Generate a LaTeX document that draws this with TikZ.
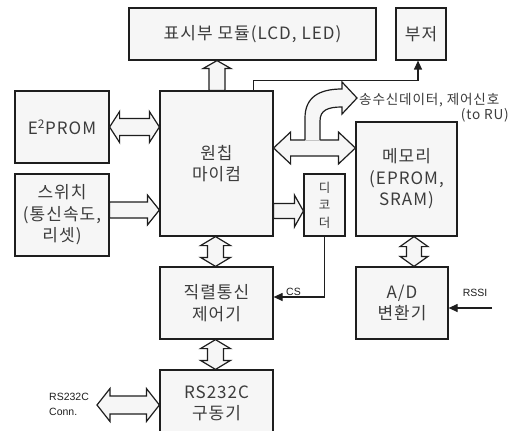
\documentclass[tikz,border=0pt]{standalone}
\usepackage{fontspec}
\setmainfont{Noto Sans CJK KR}
\newfontfamily\kr[LetterSpace=6]{Noto Sans CJK KR}
\newfontfamily\lat{Liberation Sans}
\usetikzlibrary{calc,arrows.meta}
\definecolor{boxfill}{RGB}{246,246,246}
\definecolor{txt}{RGB}{60,60,60}
\definecolor{edge}{RGB}{30,30,30}
\tikzset{
  box/.style={draw=edge, line width=1.2pt, fill=boxfill, inner sep=0pt, align=center,
    font=\kr\fontsize{17}{21.5}\selectfont, text=txt},
  blk/.style={draw=edge, line width=1.2pt, fill=boxfill, line join=miter},
  wire/.style={draw=edge, line width=1.2pt},
  tip/.style={-{Triangle[length=9pt,width=8pt]}},
  small/.style={font=\lat\fontsize{10.5}{14.5}\selectfont, text=edge, inner sep=0pt},
  ann/.style={font=\kr\fontsize{13.6}{16}\selectfont, text=txt, inner sep=0pt},
}
% vertical double block arrow: #1 top tip, #2 bottom tip, #3 half shaft, #4 half head, #5 head length
\newcommand\mkvd[5]{\path[blk] let \p1=(#1), \p2=(#2) in
  (\x1,\y1) -- (\x1+#4,\y1-#5) -- (\x1+#3,\y1-#5) -- (\x1+#3,\y2+#5) -- (\x1+#4,\y2+#5)
  -- (\x1,\y2) -- (\x1-#4,\y2+#5) -- (\x1-#3,\y2+#5) -- (\x1-#3,\y1-#5) -- (\x1-#4,\y1-#5) -- cycle;}
% horizontal double block arrow: #1 left tip, #2 right tip
\newcommand\mkhd[5]{\path[blk] let \p1=(#1), \p2=(#2) in
  (\x1,\y1) -- (\x1+#5,\y1+#4) -- (\x1+#5,\y1+#3) -- (\x2-#5,\y1+#3) -- (\x2-#5,\y1+#4)
  -- (\x2,\y1) -- (\x2-#5,\y1-#4) -- (\x2-#5,\y1-#3) -- (\x1+#5,\y1-#3) -- (\x1+#5,\y1-#4) -- cycle;}
% horizontal single block arrow: #1 tail, #2 tip (to the right)
\newcommand\mkhs[5]{\path[blk] let \p1=(#1), \p2=(#2) in
  (\x1,\y1+#3) -- (\x2-#5,\y1+#3) -- (\x2-#5,\y1+#4) -- (\x2,\y1) -- (\x2-#5,\y1-#4)
  -- (\x2-#5,\y1-#3) -- (\x1,\y1-#3) -- cycle;}
% vertical single block arrow: #1 tail (bottom), #2 tip (top)
\newcommand\mkvs[5]{\path[blk] let \p1=(#1), \p2=(#2) in
  (\x1+#3,\y1) -- (\x1+#3,\y2-#5) -- (\x1+#4,\y2-#5) -- (\x1,\y2) -- (\x1-#4,\y2-#5)
  -- (\x1-#3,\y2-#5) -- (\x1-#3,\y1) -- cycle;}
\begin{document}
\begin{tikzpicture}[x=1pt,y=-1pt]
\useasboundingbox (0,0) rectangle (526,430);
\clip (0,0) rectangle (526,430);
\fill[white] (0,0) rectangle (526,430);

% boxes
\node[box, minimum width=247pt, minimum height=52pt] (disp) at (252.5,34) {표시부 모듈(LCD, LED)};
\node[box, minimum width=50pt, minimum height=52pt] (buzz) at (421,34) {부저};
\node[box, minimum width=94pt, minimum height=72pt] (e2p) at (62,127) {E\textsuperscript{2}PROM};
\node[box, minimum width=113pt, minimum height=145pt] (mcu) at (216.5,163.5) {원칩\\마이컴};
\node[box, minimum width=94pt, minimum height=82pt] (sw) at (62,215) {스위치\\(통신속도,\\리셋)};
\node[box, minimum width=41pt, minimum height=62pt, font=\kr\fontsize{12.5}{17.5}\selectfont] (dec) at (324.5,205) {디\\코\\더};
\node[box, minimum width=101pt, minimum height=114pt] (mem) at (406.5,179) {메모리\\(EPROM,\\SRAM)};
\node[box, minimum width=92pt, minimum height=72pt] (ad) at (402,303) {A/D\\변환기};
\node[box, minimum width=113pt, minimum height=72pt] (ser) at (216.5,303) {직렬통신\\제어기};
\node[box, minimum width=113pt, minimum height=67pt] (rs) at (216.5,403.5) {RS232C\\구동기};

% block arrows
\mkvs{$(mcu.north)+(0.5,0)$}{disp.south}{8}{14}{8}
\mkhd{e2p.east}{mcu.west}{8.5}{15.5}{10}
\mkhs{$(sw.east)+(0,-5)$}{mcu.west}{8}{15}{12}
\mkhs{$(mcu.east)+(0,47.5)$}{dec.west}{7.5}{16}{9}
\mkhd{$(mcu.east)+(0,-15.5)$}{mem.west}{8}{16}{17}
\mkvd{$(mcu.south)+(-1,0)$}{ser.north}{8}{15}{9}
\mkvd{$(ser.south)+(-1,0)$}{rs.north}{8}{15}{9}
\mkvd{$(mem.south)+(7.5,0)$}{ad.north}{7.5}{14}{10}

% curved block arrow to RU
\coordinate (rutip) at (357,98);
\fill[boxfill] (305,140.6) -- (305,118) .. controls (305,98) and (318,89) .. (342,89)
  -- (342,82) -- (rutip) -- (342,114) -- (342,107) .. controls (328,107) and (320,110) .. (320,121)
  -- (320,140.6) -- cycle;
\draw[wire, line join=miter] (305,140) -- (305,118) .. controls (305,98) and (318,89) .. (342,89)
  -- (342,82) -- (rutip) -- (342,114) -- (342,107) .. controls (328,107) and (320,110) .. (320,121)
  -- (320,140);
\node[ann, anchor=west] (rutext) at (359,100) {송수신데이터, 제어신호};
\node[ann, anchor=east] (rutext2) at (509,115) {(to RU)};

% RS232C connector arrow
\coordinate (conn) at (97,405);
\mkhd{conn}{rs.west |- conn}{9}{16.5}{13}
\node[small, anchor=west, align=left] (conntext) at (49,404.5) {RS232C\\Conn.};

% wires
\draw[wire, tip] ($(mcu.north east)+(-20,0)$) -- ++(0,-10) -| ($(buzz.south)+(-3,0)$);
\draw[wire, tip] (dec.south) |- ($(ser.east)+(0,-6)$);
\node[small, anchor=south west] (cs) at (286,296) {CS};
\coordinate (rssi) at (492,308);
\draw[wire, tip] (rssi) -- (ad.east |- rssi);
\node[small] (rssitext) at (475,293) {RSSI};
\end{tikzpicture}
\end{document}
